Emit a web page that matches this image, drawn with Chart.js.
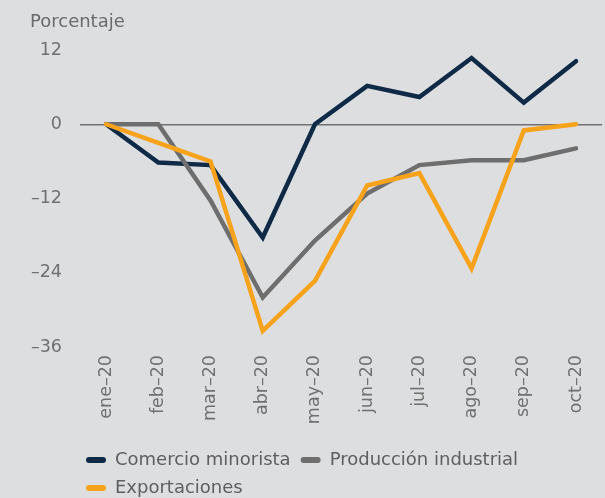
<!DOCTYPE html>
<html>
<head>
<meta charset="utf-8">
<script src="https://cdn.jsdelivr.net/npm/chart.js@4/dist/chart.umd.min.js"></script>
<style>
  html, body { margin: 0; padding: 0; background: #dddee0; }
  #wrap { position: relative; width: 605px; height: 498px; }
</style>
</head>
<body>
<div id="wrap"><canvas id="c" width="605" height="498"></canvas></div>
<script>
const categories = ['ene–20','feb–20','mar–20','abr–20','may–20','jun–20','jul–20','ago–20','sep–20','oct–20'];
const comercioMinorista = [0, -6.2, -6.6, -18.3, 0, 6.2, 4.4, 10.7, 3.5, 10.2];
const produccionIndustrial = [0, 0, -12.3, -28, -18.8, -11.2, -6.6, -5.8, -5.8, -3.9];
const exportaciones = [0, -3, -6, -33.4, -25.3, -9.9, -7.9, -23.3, -1, 0];
const seriesNames = ['Comercio minorista', 'Producción industrial', 'Exportaciones'];
const yTicks = [12, 0, -12, -24, -36];
const axisTitle = 'Porcentaje';

const FONT = "'DejaVu Sans', sans-serif";
const colors = ['#0e2a47', '#6e6e6e', '#f7a21b'];

const titlePlugin = {
  id: 'topTitle',
  afterDraw(chart) {
    const ctx = chart.ctx;
    ctx.save();
    ctx.font = "18px " + FONT;
    ctx.fillStyle = '#6a6a6a';
    ctx.textBaseline = 'middle';
    ctx.textAlign = 'left';
    ctx.fillText(axisTitle, 30, 22);
    ctx.restore();
  }
};

// place the legend block below the axis labels, left-aligned under the plot
const legendPlace = {
  id: 'legendPlace',
  afterLayout(chart) {
    const lg = chart.legend;
    if (!lg) return;
    lg.left = 76; lg.right = 605;
    lg.top = 441; lg.bottom = 498;
  }
};

new Chart(document.getElementById('c'), {
  type: 'line',
  data: {
    labels: categories,
    datasets: [
      { label: seriesNames[0], data: comercioMinorista, borderColor: colors[0], backgroundColor: colors[0], order: 2 },
      { label: seriesNames[1], data: produccionIndustrial, borderColor: colors[1], backgroundColor: colors[1], order: 1 },
      { label: seriesNames[2], data: exportaciones, borderColor: colors[2], backgroundColor: colors[2], order: 0 }
    ]
  },
  options: {
    responsive: false,
    animation: false,
    layout: { padding: { top: 50, left: 30, right: 0, bottom: 0 } },
    elements: {
      line: { borderWidth: 4.5, tension: 0, borderCapStyle: 'round', borderJoinStyle: 'miter', fill: false },
      point: { radius: 0, hoverRadius: 0 }
    },
    scales: {
      x: {
        offset: true,
        grid: { display: false, drawTicks: false },
        border: { display: false },
        ticks: { color: '#707070', font: { family: FONT, size: 17.5 }, minRotation: 90, maxRotation: 90, padding: 8, autoSkip: false },
        afterFit: s => { s.height = 85; }
      },
      y: {
        min: Math.min(...yTicks), max: Math.max(...yTicks),
        grid: { drawTicks: false, lineWidth: 1.5, color: c => (c.tick && c.tick.value === 0) ? '#707070' : 'rgba(0,0,0,0)' },
        border: { display: false },
        afterBuildTicks: s => { s.ticks = yTicks.slice().reverse().map(v => ({ value: v })); },
        ticks: {
          color: '#707070', font: { family: FONT, size: 17.5 }, padding: 18,
          callback: v => v < 0 ? '–' + Math.abs(v) : String(v)
        },
        afterFit: s => { s.width = 50; }
      }
    },
    plugins: {
      tooltip: { enabled: false },
      title: { display: false },
      legend: {
        position: 'bottom',
        align: 'start',
        labels: {
          color: '#5e5e5e',
          font: { family: FONT, size: 18 },
          padding: 10,
          boxWidth: 20,
          boxHeight: 6,
          sort: (a, b) => a.datasetIndex - b.datasetIndex,
          generateLabels: chart => Chart.defaults.plugins.legend.labels.generateLabels(chart).map(l => Object.assign(l, { lineWidth: 0, borderRadius: 3 }))
        }
      }
    }
  },
  plugins: [titlePlugin, legendPlace]
});
</script>
</body>
</html>
